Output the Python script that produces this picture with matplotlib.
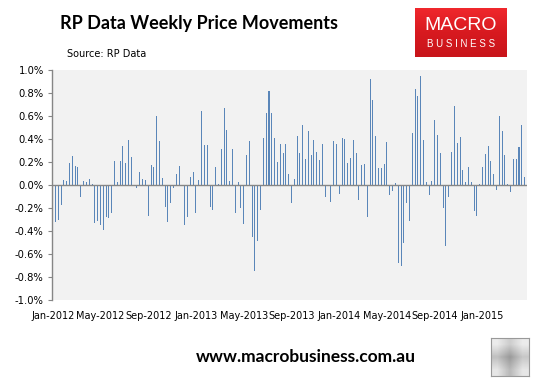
import matplotlib
matplotlib.use("Agg")
import matplotlib.pyplot as plt
import numpy as np
from matplotlib.colors import LinearSegmentedColormap

# Weekly price movement (%) - RP Data
changes = [
    -0.14, -0.32, -0.30, -0.17, 0.04, 0.035, 0.19, 0.25, 0.165, 0.16,
    -0.10, 0.035, 0.026, 0.05, 0.01, -0.33, -0.31, -0.345, -0.39, -0.275,
    -0.29, -0.24, 0.21, 0.026, 0.21, 0.34, 0.19, 0.39, 0.24, 0.0,
    -0.03, 0.11, 0.05, 0.04, -0.27, 0.17, 0.16, 0.60, 0.38, 0.06,
    -0.19, -0.32, -0.16, -0.03, 0.10, 0.165, 0.0, -0.345, -0.275, 0.07,
    0.11, -0.24, 0.04, 0.64, 0.35, 0.35, -0.19, -0.22, 0.16, 0.01,
    0.31, 0.67, 0.48, 0.035, 0.31, -0.24, 0.03, -0.20, -0.34, 0.26,
    0.38, -0.45, -0.745, -0.49, -0.22, 0.41, 0.63, 0.82, 0.63, 0.41,
    0.20, 0.36, 0.28, 0.36, 0.10, -0.16, 0.05, 0.43, 0.28, 0.52,
    0.23, 0.47, 0.26, 0.39, 0.29, 0.22, 0.36, -0.10, 0.0, -0.145,
    0.38, 0.36, -0.075, 0.41, 0.40, 0.19, 0.235, 0.39, 0.28, -0.13,
    0.17, 0.18, -0.275, 0.92, 0.74, 0.43, 0.15, 0.15, 0.18, 0.37,
    -0.085, -0.05, 0.02, -0.675, -0.70, -0.50, -0.16, -0.31, 0.45, 0.835,
    0.77, 0.95, 0.39, 0.026, -0.09, 0.035, 0.565, 0.435, 0.28, -0.20,
    -0.53, -0.10, 0.29, 0.69, 0.365, 0.42, 0.13, 0.026, 0.16, 0.026,
    -0.23, -0.27, 0.01, 0.16, 0.27, 0.34, 0.21, 0.10, -0.04, 0.60,
    0.47, 0.26, 0.01, -0.06, 0.23, 0.23, 0.33, 0.52, 0.07,
]
tick_labels = ["Jan-2012", "May-2012", "Sep-2012", "Jan-2013", "May-2013",
               "Sep-2013", "Jan-2014", "May-2014", "Sep-2014", "Jan-2015"]
label_every = 17
y_ticks = [-1.0, -0.8, -0.6, -0.4, -0.2, 0.0, 0.2, 0.4, 0.6, 0.8, 1.0]

W, H = 540, 381
fig = plt.figure(figsize=(W / 100, H / 100), dpi=100)
fig.patch.set_facecolor("white")

def px(x0, y0, x1, y1):
    return [x0 / W, 1 - y1 / H, (x1 - x0) / W, (y1 - y0) / H]

ax = fig.add_axes(px(52, 70, 527, 300))
ax.set_facecolor("#f2f2f2")
x = np.arange(len(changes))
ax.bar(x, changes, width=0.36, color="#5a86b9", linewidth=0, zorder=2,
       antialiased=False)
ax.axhline(0, color="#868686", linewidth=1.0, zorder=3)
ax.set_xlim(-0.25, len(changes) - 0.15)
ax.set_ylim(-1.0, 1.0)
ax.set_yticks(y_ticks)
ax.set_yticklabels([f"{v:.1f}%" for v in y_ticks])
ax.set_xticks(x[::label_every][:len(tick_labels)])
ax.set_xticklabels(tick_labels)
for s in ["top", "right", "bottom"]:
    ax.spines[s].set_visible(False)
ax.spines["left"].set_color("#868686")
ax.spines["left"].set_linewidth(1.0)
ax.tick_params(axis="x", length=0, pad=8, labelsize=7, colors="black")
ax.tick_params(axis="y", length=3, width=0.8, color="#868686", pad=3,
               labelsize=7.2, labelcolor="black")

# Title & source
fig.text(199 / W, 1 - 24 / H, "RP Data Weekly Price Movements", ha="center",
         va="center", fontsize=13, fontweight="bold", family="Lato")
fig.text(67 / W, 1 - 54 / H, "Source: RP Data", ha="left", va="center",
         fontsize=7, family="DejaVu Sans")

# MacroBusiness logo box
lax = fig.add_axes(px(415, 8, 507, 57))
grad = np.linspace(0, 1, 50).reshape(-1, 1)
cmap = LinearSegmentedColormap.from_list("r", ["#f0282d", "#d81a20", "#c8141a"])
lax.imshow(grad, aspect="auto", cmap=cmap, extent=[0, 1, 0, 1])
lax.set_xlim(0, 1); lax.set_ylim(0, 1)
lax.axis("off")
lax.text(0.5, 0.64, "MACRO", ha="center", va="center", color="white",
         fontsize=14, family="Liberation Sans")
lax.text(0.5, 0.27, "B U S I N E S S", ha="center", va="center", color="white",
         fontsize=7, family="Liberation Sans")

# Footer
fig.text(306 / W, 1 - 357 / H, "www.macrobusiness.com.au", ha="center",
         va="center", fontsize=12.5, fontweight="bold", family="Lato")
wax = fig.add_axes(px(491, 338, 529, 376))
wax.imshow(np.array([[0.92, 0.8, 0.92], [0.75, 0.6, 0.78], [0.9, 0.72, 0.9]]),
           cmap="gray", vmin=0, vmax=1, extent=[0, 1, 0, 1], aspect="auto",
           interpolation="bilinear")
wax.set_xticks([]); wax.set_yticks([])
for s in wax.spines.values():
    s.set_color("#999999")

fig.savefig("out.png", dpi=100, facecolor="white")
